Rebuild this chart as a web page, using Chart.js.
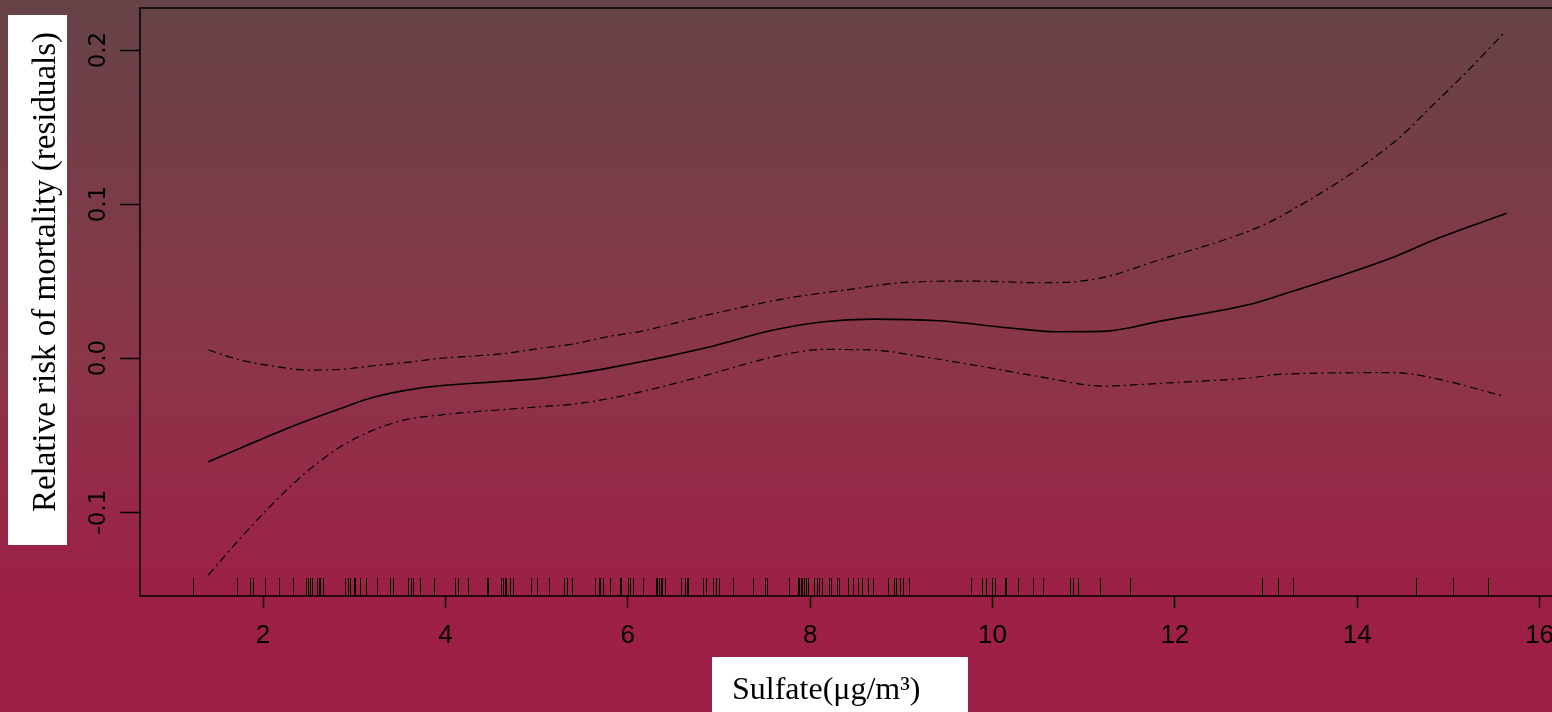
<!doctype html>
<html lang="en">
<head>
  <meta charset="utf-8">
  <title>Sulfate and relative risk of mortality</title>
  <script src="https://cdn.jsdelivr.net/npm/chart.js"></script>
  <style>
    body { margin: 0; background: #9e1f45; }
    canvas { display: block; }
  </style>
</head>
<body>

<canvas id="myChart" width="1552" height="712"></canvas>

<script>
  // smooth fit (solid) and its upper / lower bands (dash-dot)
  var fitX = [1.40, 1.75, 2.11, 2.48, 2.85, 3.21, 3.58, 3.94, 4.31, 4.67, 5.04, 5.40, 5.77, 6.13, 6.87, 7.60, 8.15, 8.69, 9.42, 10.16, 10.70, 11.25, 11.84, 12.84, 13.19, 14.41, 14.91, 15.64];
  var fitY = [-0.0673, -0.0586, -0.0494, -0.0407, -0.0327, -0.0255, -0.0208, -0.0180, -0.0164, -0.0149, -0.0132, -0.0104, -0.0067, -0.0026, 0.0069, 0.0182, 0.0236, 0.0253, 0.0242, 0.0197, 0.0171, 0.0175, 0.0240, 0.0351, 0.0414, 0.0658, 0.0784, 0.0940];

  var upperX = [1.40, 1.75, 2.11, 2.48, 2.85, 3.21, 3.58, 3.94, 4.31, 4.67, 5.04, 5.40, 5.77, 6.13, 6.87, 7.78, 8.33, 9.06, 9.79, 10.52, 10.89, 11.25, 11.80, 12.84, 13.19, 14.41, 14.83, 15.13, 15.63];
  var upperY = [0.0052, -0.0013, -0.0052, -0.0078, -0.0073, -0.0050, -0.0028, -0.0002, 0.0013, 0.0031, 0.0063, 0.0091, 0.0138, 0.0172, 0.0279, 0.0392, 0.0437, 0.0492, 0.0500, 0.0489, 0.0495, 0.0528, 0.0632, 0.0831, 0.0929, 0.1405, 0.1643, 0.1816, 0.2123];

  var lowerX = [1.40, 1.75, 2.11, 2.48, 2.85, 3.21, 3.58, 3.94, 4.31, 4.67, 5.04, 5.40, 5.77, 6.13, 6.87, 7.60, 8.15, 8.69, 9.24, 9.79, 10.52, 11.22, 11.84, 12.84, 13.19, 14.41, 14.73, 15.61];
  var lowerY = [-0.1409, -0.1171, -0.0944, -0.0738, -0.0576, -0.0468, -0.0398, -0.0370, -0.0349, -0.0333, -0.0316, -0.0299, -0.0266, -0.0221, -0.0110, 0.0008, 0.0056, 0.0052, 0.0008, -0.0045, -0.0121, -0.0182, -0.0164, -0.0128, -0.0104, -0.0095, -0.0117, -0.0247];

  // observed sulfate values (rug along the x axis)
  var rugX = [1.23, 1.72, 1.86, 1.89, 2.02, 2.17, 2.33, 2.47, 2.49, 2.52, 2.54, 2.59, 2.61, 2.63, 2.66,
              2.90, 2.93, 2.95, 3.00, 3.01, 3.06, 3.13, 3.25, 3.39, 3.43, 3.59, 3.62, 3.64, 3.72, 3.88,
              4.11, 4.14, 4.25, 4.46, 4.47, 4.61, 4.63, 4.65, 4.66, 4.71, 4.74, 4.94, 5.00, 5.14, 5.30,
              5.33, 5.39, 5.64, 5.68, 5.70, 5.73, 5.81, 5.92, 5.93, 6.00, 6.02, 6.06, 6.17, 6.31, 6.32,
              6.34, 6.36, 6.38, 6.41, 6.58, 6.63, 6.65, 6.66, 6.82, 6.86, 6.93, 6.97, 7.00, 7.15, 7.37,
              7.51, 7.53, 7.77, 7.87, 7.88, 7.90, 7.91, 7.93, 7.95, 7.98, 8.04, 8.07, 8.10, 8.13, 8.21,
              8.23, 8.30, 8.32, 8.42, 8.47, 8.52, 8.57, 8.64, 8.69, 8.85, 8.92, 8.94, 8.99, 9.02, 9.08,
              9.76, 9.89, 9.93, 9.99, 10.03, 10.14, 10.15, 10.28, 10.44, 10.55, 10.85, 10.88, 10.94,
              11.18, 11.51, 12.96, 13.13, 13.30, 14.64, 15.05, 15.43];

  var xTicks = [2, 4, 6, 8, 10, 12, 14, 16];
  var yTicks = [-0.1, 0.0, 0.1, 0.2];

  var xTitle = 'Sulfate(\u03bcg/m\u00b3)';
  var yTitle = 'Relative risk of mortality (residuals)';

  function pairs(xs, ys) {
    return xs.map(function (x, i) { return {x: x, y: ys[i]}; });
  }

  // page background, plot box, rug and the boxed axis titles
  var decorPlugin = {
    id: 'decor',
    beforeDraw: function (chart) {
      var ctx = chart.ctx;
      var g = ctx.createLinearGradient(0, 0, 0, chart.height);
      g.addColorStop(0, '#654346');
      g.addColorStop(0.5, '#8b3649');
      g.addColorStop(0.84, '#9d2046');
      g.addColorStop(1, '#9e1f45');
      ctx.save();
      ctx.fillStyle = g;
      ctx.fillRect(0, 0, chart.width, chart.height);
      ctx.restore();
    },
    afterDraw: function (chart) {
      var ctx = chart.ctx;
      var a = chart.chartArea;
      var xs = chart.scales.x;
      ctx.save();
      ctx.strokeStyle = '#000';
      ctx.lineWidth = 1.5;
      ctx.strokeRect(a.left, a.top, a.right - a.left + 10, a.bottom - a.top);

      ctx.lineWidth = 1;
      ctx.beginPath();
      rugX.forEach(function (v) {
        var px = Math.round(xs.getPixelForValue(v)) + 0.5;
        ctx.moveTo(px, a.bottom - 18);
        ctx.lineTo(px, a.bottom);
      });
      ctx.stroke();

      ctx.fillStyle = '#fff';
      ctx.fillRect(8, 15, 59, 530);
      ctx.fillRect(712, 657, 256, 60);

      ctx.fillStyle = '#000';
      ctx.font = '32px "Liberation Serif", "Times New Roman", serif';
      ctx.textBaseline = 'alphabetic';
      ctx.textAlign = 'left';
      ctx.fillText(xTitle, 732, 699);

      ctx.font = '33px "Liberation Serif", "Times New Roman", serif';
      ctx.translate(55, 272);
      ctx.rotate(-Math.PI / 2);
      ctx.textAlign = 'center';
      ctx.fillText(yTitle, 0, 0);
      ctx.restore();
    }
  };

  var mainConfig = {
    type: 'line',
    data: {
      datasets: [
        {
          label: 'Fit',
          data: pairs(fitX, fitY),
          borderColor: '#000',
          borderWidth: 1.6,
          pointRadius: 0,
          cubicInterpolationMode: 'monotone'
        },
        {
          label: 'Upper',
          data: pairs(upperX, upperY),
          borderColor: '#000',
          borderWidth: 1.2,
          borderDash: [8, 4, 2, 4],
          pointRadius: 0,
          cubicInterpolationMode: 'monotone'
        },
        {
          label: 'Lower',
          data: pairs(lowerX, lowerY),
          borderColor: '#000',
          borderWidth: 1.2,
          borderDash: [8, 4, 2, 4],
          pointRadius: 0,
          cubicInterpolationMode: 'monotone'
        }
      ]
    },
    options: {
      responsive: false,
      animation: false,
      devicePixelRatio: 1,
      layout: { padding: { top: 8, left: 0, right: 0, bottom: 0 } },
      plugins: {
        legend: { display: false },
        tooltip: { enabled: false }
      },
      scales: {
        x: {
          type: 'linear',
          min: 0.651,
          max: 16.136,
          border: { display: false },
          grid: { drawOnChartArea: false, tickLength: 12, tickColor: '#000', tickWidth: 1.5 },
          ticks: {
            color: '#000',
            padding: 12,
            maxRotation: 0,
            font: { family: '"Liberation Sans", Arial, sans-serif', size: 26 },
            callback: function (v) { return String(v); }
          },
          afterBuildTicks: function (scale) {
            scale.ticks = xTicks.map(function (v) { return {value: v}; });
          },
          afterFit: function (scale) {
            scale.height = 116;
            scale.paddingLeft = 0;
            scale.paddingRight = 0;
          }
        },
        y: {
          type: 'linear',
          min: -0.1545,
          max: 0.2273,
          border: { display: false },
          grid: { drawOnChartArea: false, tickLength: 20, tickColor: '#000', tickWidth: 1.5 },
          ticks: {
            color: '#000',
            padding: -1,
            minRotation: 90,
            maxRotation: 90,
            crossAlign: 'center',
            font: { family: '"DejaVu Sans", sans-serif', size: 23 },
            callback: function (v) { return v.toFixed(1); }
          },
          afterBuildTicks: function (scale) {
            scale.ticks = yTicks.map(function (v) { return {value: v}; });
          },
          afterFit: function (scale) {
            scale.width = 140;
            scale.paddingTop = 0;
            scale.paddingBottom = 0;
          }
        }
      }
    },
    plugins: [decorPlugin]
  };

  window.onload = function () {
    var ctx = document.getElementById('myChart').getContext('2d');
    new Chart(ctx, mainConfig);
  };
</script>

</body>
</html>
